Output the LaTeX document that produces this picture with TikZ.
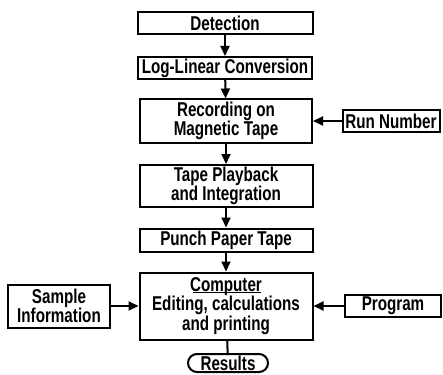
\documentclass[tikz,border=0pt]{standalone}
\usepackage{fontspec}
\setmainfont{Liberation Sans}[FakeStretch=0.76]
\usetikzlibrary{arrows.meta}

\begin{document}
\begin{tikzpicture}[x=1pt, y=-1pt,
	box/.style={draw, line width=2pt, inner sep=0pt, align=center,
		font=\bfseries\fontsize{20}{19.5}\selectfont},
	arr/.style={line width=2pt, -{Triangle[width=9pt,length=10pt]}}]
			\useasboundingbox (0,0) rectangle (443,374);
			\node (det) at (225,23) [box, minimum width=175pt, minimum height=22pt] {Detection};
			\node (loglin) at (225,68) [box, minimum width=174pt, minimum height=22pt] {Log-Linear Conversion};
			\node (rec) at (226,121) [box, minimum width=172pt, minimum height=43pt] {Recording on\\Magnetic Tape};
			\node (run) at (391,121) [box, minimum width=97pt, minimum height=22pt] {Run Number};
			\node (play) at (226,186) [box, minimum width=173pt, minimum height=42pt] {Tape Playback\\and Integration};
			\node (punch) at (226,240) [box, minimum width=173pt, minimum height=23pt] {Punch Paper Tape};
			\node (comp) at (226,306) [box, minimum width=173pt, minimum height=67pt] {Computer\\Editing, calculations\\and printing};
			\node (samp) at (59,306) [box, minimum width=102pt, minimum height=43pt] {Sample\\Information};
			\node (prog) at (393,306) [box, minimum width=96pt, minimum height=22pt] {Program};
			\node (res) at (228,363) [box, rounded corners=9pt, minimum width=80pt, minimum height=18pt] {Results};
			% underline of the heading in the computer box
			\draw[line width=1.6pt] ([xshift=-33pt,yshift=-21pt]comp.north) -- ([xshift=35pt,yshift=-21pt]comp.north);
			\draw[arr] (det) -- (loglin);
			\draw[arr] (loglin) -- (rec);
			\draw[arr] (run) -- (rec);
			\draw[arr] (rec) -- (play);
			\draw[arr] (play) -- (punch);
			\draw[arr] (punch) -- (comp);
			\draw[arr] (samp) -- (comp);
			\draw[arr] (prog) -- (comp);
			\draw[line width=2pt] (comp) -- (res);
			\end{tikzpicture}
\end{document}
